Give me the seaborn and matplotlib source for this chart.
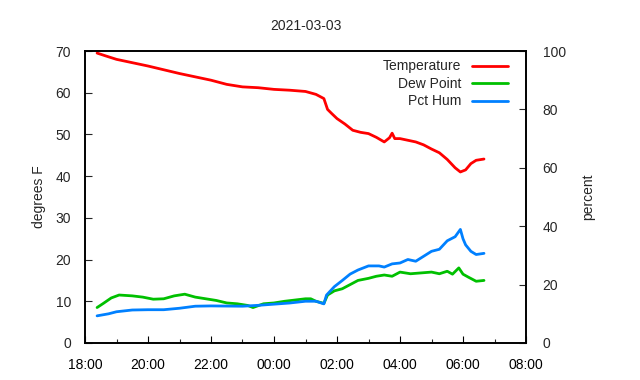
import pandas as pd
import matplotlib
matplotlib.use("Agg")
import matplotlib.pyplot as plt
import matplotlib.dates as mdates
import seaborn as sns

# readings, overnight 2021-03-02 -> 2021-03-03
temp_times = ["18:23", "18:40", "19:00", "19:30", "20:00", "20:30", "21:00", "21:30",
              "22:00", "22:30", "23:00", "23:30", "00:00", "00:30", "01:00", "01:20",
              "01:35", "01:42", "01:50", "02:00", "02:15", "02:30", "02:45", "03:00",
              "03:15", "03:30", "03:40", "03:45", "03:50", "04:00", "04:15", "04:30",
              "04:45", "05:00", "05:15", "05:30", "05:45", "05:55", "06:05", "06:15",
              "06:25", "06:40"]
temperature = [69.5, 68.8, 68.0, 67.2, 66.4, 65.5, 64.6, 63.8,
               63.0, 62.0, 61.4, 61.2, 60.8, 60.6, 60.3, 59.6,
               58.6, 56.0, 55.0, 53.8, 52.5, 51.0, 50.5, 50.2,
               49.3, 48.2, 49.2, 50.3, 49.0, 49.0, 48.6, 48.2,
               47.5, 46.5, 45.6, 44.0, 42.0, 41.0, 41.5, 43.0,
               43.8, 44.1]

dew_times = ["18:23", "18:35", "18:50", "19:05", "19:30", "19:50", "20:10", "20:30",
             "20:50", "21:10", "21:30", "21:50", "22:10", "22:30", "22:50", "23:10",
             "23:20", "23:40", "00:00", "00:20", "00:40", "01:00", "01:10", "01:20",
             "01:35", "01:42", "01:55", "02:10", "02:25", "02:40", "03:00", "03:15",
             "03:30", "03:45", "04:00", "04:20", "04:40", "05:00", "05:15", "05:30",
             "05:40", "05:52", "06:00", "06:10", "06:25", "06:40"]
dew_point = [8.5, 9.5, 10.8, 11.5, 11.3, 11.0, 10.5, 10.6,
             11.3, 11.7, 11.0, 10.6, 10.2, 9.6, 9.4, 9.0,
             8.5, 9.4, 9.6, 10.0, 10.3, 10.6, 10.6, 10.0,
             9.5, 11.5, 12.5, 13.0, 14.0, 15.0, 15.5, 16.0,
             16.3, 16.0, 17.0, 16.6, 16.8, 17.0, 16.6, 17.2,
             16.5, 18.0, 16.5, 15.8, 14.8, 15.0]

hum_times = ["18:23", "18:45", "19:00", "19:30", "20:00", "20:30", "21:00", "21:30",
             "22:00", "23:00", "23:30", "00:00", "00:30", "01:00", "01:20", "01:35",
             "01:40", "01:55", "02:10", "02:25", "02:40", "03:00", "03:20", "03:30",
             "03:45", "04:00", "04:15", "04:30", "04:45", "05:00", "05:15", "05:30",
             "05:45", "05:55", "06:00", "06:05", "06:15", "06:25", "06:40"]
pct_hum = [9.3, 10.0, 10.7, 11.3, 11.4, 11.4, 11.9, 12.6,
           12.7, 12.6, 12.9, 13.3, 13.7, 14.3, 14.3, 13.4,
           16.4, 19.3, 21.4, 23.6, 25.0, 26.4, 26.4, 26.0,
           27.1, 27.4, 28.6, 28.0, 29.7, 31.4, 32.1, 35.0,
           36.4, 38.9, 35.7, 33.6, 31.4, 30.3, 30.7]


def to_dt(times):
    out = []
    for t in times:
        day = "2021-03-02" if int(t[:2]) >= 12 else "2021-03-03"
        out.append(pd.Timestamp(day + " " + t))
    return out


temp_df = pd.DataFrame({"time": to_dt(temp_times), "value": temperature})
dew_df = pd.DataFrame({"time": to_dt(dew_times), "value": dew_point})
hum_df = pd.DataFrame({"time": to_dt(hum_times), "value": pct_hum})

sns.set_theme(style="white")
plt.rcParams['font.family'] = ['Liberation Sans', 'DejaVu Sans']
plt.rcParams['font.size'] = 10

fig = plt.figure(figsize=(6.4, 3.8), dpi=100)
ax = fig.add_axes([85 / 640, 1 - 343 / 380, 441 / 640, 292 / 380])
ax2 = ax.twinx()

sns.lineplot(data=temp_df, x="time", y="value", ax=ax, color="#ff0000",
             linewidth=2.0, label="Temperature", legend=False)
sns.lineplot(data=dew_df, x="time", y="value", ax=ax, color="#00c000",
             linewidth=2.0, label="Dew Point", legend=False)
sns.lineplot(data=hum_df, x="time", y="value", ax=ax2, color="#0080ff",
             linewidth=2.0, label="Pct Hum", legend=False)

ax.set_xlim(pd.Timestamp("2021-03-02 18:00"), pd.Timestamp("2021-03-03 08:00"))
ax.set_ylim(0, 70)
ax2.set_ylim(0, 100)
ax.set_yticks(range(0, 71, 10))
ax2.set_yticks(range(0, 101, 20))

ax.xaxis.set_major_locator(mdates.HourLocator(byhour=range(0, 24, 2)))
ax.xaxis.set_minor_locator(mdates.HourLocator())
ax.xaxis.set_major_formatter(mdates.DateFormatter("%H:%M"))

ax.tick_params(axis="x", which="major", direction="in", length=5, width=0.8,
               pad=11, colors="black", labelsize=10, bottom=True, top=False)
ax.tick_params(axis="x", which="minor", direction="in", length=3, width=0.8,
               bottom=True, top=False)
ax.tick_params(axis="y", direction="in", length=5, width=0.8, pad=10,
               left=True, right=False, labelsize=10)
ax2.tick_params(axis="y", direction="in", length=5, width=0.8, pad=12,
                right=True, left=False, labelsize=10)

for a in (ax, ax2):
    for s in a.spines.values():
        s.set_color("black")
        s.set_linewidth(1.2)

ax.set_xlabel("")
ax.set_ylabel("degrees F", fontsize=10, labelpad=7)
ax2.set_ylabel("percent", fontsize=10, labelpad=11)
ax.set_title("2021-03-03", fontsize=10, pad=15)

h1, l1 = ax.get_legend_handles_labels()
h2, l2 = ax2.get_legend_handles_labels()
ax2.legend(h1 + h2, l1 + l2, loc="upper right", bbox_to_anchor=(0.972, 0.99),
           frameon=False, markerfirst=False, handlelength=2.6, labelspacing=0.25,
           borderaxespad=0, fontsize=10, handletextpad=0.75)

fig.savefig("out.png", dpi=100)
